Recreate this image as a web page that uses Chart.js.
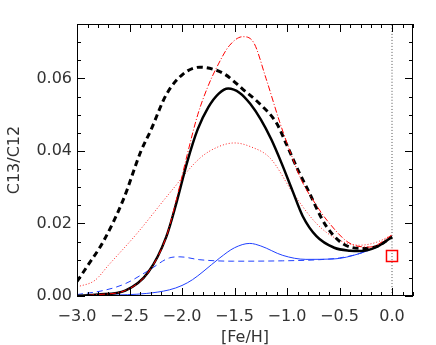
<!DOCTYPE html>
<html>
<head>
<meta charset="utf-8">
<script src="https://cdn.jsdelivr.net/npm/chart.js@4"></script>
<style>
  html, body { margin: 0; padding: 0; background: #fff; }
  #wrap { width: 436px; height: 345px; }
</style>
</head>
<body>
<div id="wrap"><canvas id="c13"></canvas></div>
<script>
// tick values
var xTicks = [-3.0, -2.5, -2.0, -1.5, -1.0, -0.5, 0.0]
var yTicks = [0.00, 0.02, 0.04, 0.06]

// black solid
var feSolid = [-3.0, -2.8, -2.54, -2.32, -2.15, -2.05, -1.95, -1.85, -1.75, -1.65, -1.56, -1.45, -1.35, -1.25, -1.15, -1.05, -0.95, -0.85, -0.72, -0.55, -0.40, -0.30, -0.15, 0.0]
var cSolid  = [0.0, 0.0004, 0.0015, 0.0066, 0.0163, 0.026, 0.037, 0.046, 0.052, 0.0558, 0.0572, 0.0560, 0.0530, 0.0487, 0.0432, 0.0365, 0.0292, 0.0220, 0.0165, 0.0133, 0.0125, 0.0124, 0.0135, 0.0163]

// black dashed
var feDash = [-3.0, -2.9, -2.75, -2.56, -2.39, -2.30, -2.15, -1.99, -1.83, -1.70, -1.59, -1.42, -1.26, -1.10, -1.0, -0.88, -0.815, -0.62, -0.40, -0.25, -0.12, 0.0]
var cDash  = [0.0040, 0.0083, 0.0150, 0.0265, 0.0400, 0.0455, 0.0555, 0.0612, 0.0631, 0.0625, 0.0611, 0.0570, 0.0530, 0.0477, 0.0415, 0.0338, 0.0301, 0.019, 0.0135, 0.0131, 0.0140, 0.0163]

// red dash-dot
var feRedDD = [-3.0, -2.8, -2.54, -2.32, -2.15, -2.05, -1.95, -1.85, -1.75, -1.67, -1.55, -1.42, -1.32, -1.2, -1.07, -0.96, -0.86, -0.72, -0.62, -0.40, -0.21, 0.0]
var cRedDD  = [0.0, 0.0004, 0.0015, 0.0066, 0.0163, 0.027, 0.039, 0.050, 0.058, 0.0630, 0.0690, 0.0715, 0.0700, 0.060, 0.048, 0.039, 0.0318, 0.025, 0.0209, 0.0145, 0.0135, 0.0168]

// red dotted
var feRedDot = [-3.0, -2.83, -2.7, -2.43, -2.12, -1.83, -1.65, -1.5, -1.35, -1.16, -0.94, -0.72, -0.53, -0.31, -0.15, 0.0]
var cRedDot  = [0.0025, 0.0043, 0.0085, 0.0172, 0.0283, 0.038, 0.0412, 0.0422, 0.0412, 0.038, 0.0283, 0.020, 0.0158, 0.014, 0.0148, 0.0168]

// blue solid
var feBlue = [-3.0, -2.7, -2.34, -2.12, -2.0, -1.9, -1.8, -1.64, -1.5, -1.354, -1.25, -1.04, -0.82, -0.56, -0.31, -0.12, 0.0]
var cBlue  = [0.0, 0.0002, 0.0007, 0.0017, 0.0029, 0.0045, 0.0067, 0.0105, 0.0133, 0.0145, 0.0138, 0.0112, 0.0101, 0.0102, 0.0117, 0.014, 0.0163]

// blue dashed
var feBlueDash = [-3.0, -2.75, -2.54, -2.32, -2.12, -2.02, -1.83, -1.51, -1.04, -0.7, -0.5, -0.31, -0.12, 0.0]
var cBlueDash  = [0.0004, 0.0015, 0.0034, 0.007, 0.0105, 0.0108, 0.0100, 0.0096, 0.0097, 0.0100, 0.0105, 0.0117, 0.014, 0.0163]

// solar point and the [Fe/H]=0 marker line
var sunX = [0.0]
var sunY = [0.011]
var zeroX = [0.0, 0.0]
var zeroY = [0.0, 0.075]

function pts(xs, ys){
    return xs.map(function(x, i){ return {x: x, y: ys[i]} })
}
function minus(s){ return s.replace("-", "\u2212") }

var FONT = {family: "DejaVu Sans", size: 16}
var TXT = "#333"

// box round the plot with inward major/minor ticks on all four sides
var boxTicks = {
    id: "boxTicks",
    afterDraw: function(chart){
        var ctx = chart.ctx, a = chart.chartArea
        var xs = chart.scales.x, ys = chart.scales.y
        ctx.save()
        ctx.strokeStyle = "#000"
        ctx.lineWidth = 1
        ctx.strokeRect(a.left + 0.5, a.top + 0.5, a.right - a.left - 1, a.bottom - a.top - 1)
        ctx.beginPath()
        for(var i = -30; i <= 2; i++){
            var px = Math.round(xs.getPixelForValue(i / 10)) + 0.5
            var len = (i % 5 == 0) ? 8 : 4
            ctx.moveTo(px, a.bottom); ctx.lineTo(px, a.bottom - len)
            ctx.moveTo(px, a.top); ctx.lineTo(px, a.top + len)
        }
        for(var j = 0; j <= 15; j++){
            var py = Math.round(ys.getPixelForValue(j * 0.005)) + 0.5
            var len2 = (j % 4 == 0) ? 8 : 4
            ctx.moveTo(a.left, py); ctx.lineTo(a.left + len2, py)
            ctx.moveTo(a.right, py); ctx.lineTo(a.right - len2, py)
        }
        ctx.stroke()
        ctx.restore()
    }
}

new Chart(document.getElementById("c13"), {
    type: "scatter",
    data: {
        datasets: [
            {data: pts(sunX, sunY), showLine: false, pointStyle: "rect", pointRadius: 7.8, borderColor: "#ff0000", backgroundColor: "rgba(0,0,0,0)", borderWidth: 1.5},
            {data: pts(feRedDD, cRedDD), borderColor: "#ff0000", borderWidth: 1, borderDash: [6, 2, 1, 2]},
            {data: pts(feSolid, cSolid), borderColor: "#000", borderWidth: 2.5},
            {data: pts(feDash, cDash), borderColor: "#000", borderWidth: 3, borderDash: [6, 4]},
            {data: pts(feRedDot, cRedDot), borderColor: "#ff2020", borderWidth: 1, borderDash: [1, 2]},
            {data: pts(feBlueDash, cBlueDash), borderColor: "#2040ff", borderWidth: 1, borderDash: [6, 4]},
            {data: pts(feBlue, cBlue), borderColor: "#2040ff", borderWidth: 1},
            {data: pts(zeroX, zeroY), borderColor: "#555", borderWidth: 1, borderDash: [1, 2], tension: 0}
        ]
    },
    options: {
        responsive: true,
        maintainAspectRatio: false,
        animation: false,
        showLine: true,
        elements: {
            point: {radius: 0},
            line: {cubicInterpolationMode: "monotone", fill: false}
        },
        layout: {padding: {top: 24, right: 23, left: 0, bottom: 0}},
        plugins: {legend: {display: false}, tooltip: {enabled: false}},
        scales: {
            x: {
                type: "linear", min: -3.0, max: 0.2,
                grid: {display: false, drawTicks: false},
                border: {display: false},
                afterBuildTicks: function(s){ s.ticks = xTicks.map(function(v){ return {value: v} }) },
                afterFit: function(s){ s.height = 49 },
                ticks: {font: FONT, color: TXT, padding: 11, maxRotation: 0,
                    callback: function(v){ return minus(Number(v).toFixed(1)) }},
                title: {display: true, text: "[Fe/H]", font: FONT, color: TXT, padding: {top: 0, bottom: -2}}
            },
            y: {
                type: "linear", min: 0, max: 0.075,
                grid: {display: false, drawTicks: false},
                border: {display: false},
                afterBuildTicks: function(s){ s.ticks = yTicks.map(function(v){ return {value: v} }) },
                afterFit: function(s){ s.width = 77 },
                ticks: {font: FONT, color: TXT, padding: 5,
                    callback: function(v){ return Number(v).toFixed(2) }},
                title: {display: true, text: "C13/C12", font: FONT, color: TXT, padding: {top: 5, bottom: 0}}
            }
        }
    },
    plugins: [boxTicks]
})
</script>
</body>
</html>
